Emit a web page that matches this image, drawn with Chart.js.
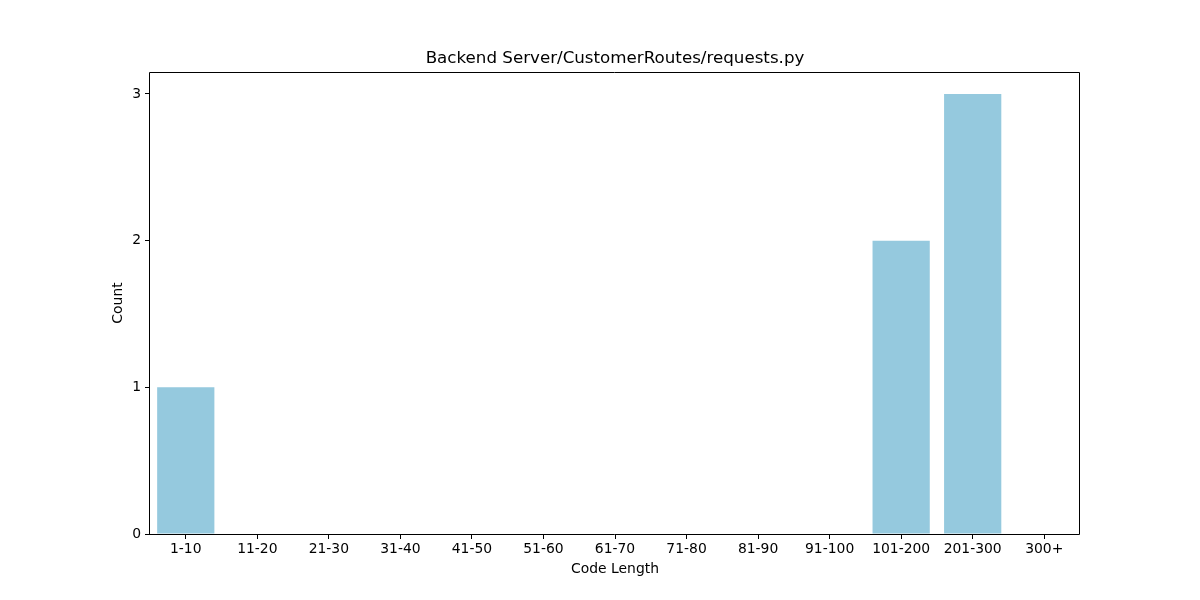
<!DOCTYPE html>
<html>
<head>
<meta charset="utf-8">
<script src="https://cdn.jsdelivr.net/npm/chart.js@4/dist/chart.umd.min.js"></script>
<style>
html,body{margin:0;padding:0;background:#fff;}
#wrap{width:1200px;height:600px;position:relative;}
</style>
</head>
<body>
<div id="wrap"><canvas id="c" width="1200" height="600"></canvas></div>
<script>
const categories = ['1-10','11-20','21-30','31-40','41-50','51-60','61-70','71-80','81-90','91-100','101-200','201-300','300+'];
const counts = [1,0,0,0,0,0,0,0,0,0,2,3,0];
const yTicks = [0,1,2,3];
const titleText = 'Backend Server/CustomerRoutes/requests.py';
const xLabel = 'Code Length';
const yLabel = 'Count';

const FONT = "'DejaVu Sans', sans-serif";

const framePlugin = {
  id: 'frame',
  afterDraw(chart) {
    const {ctx, chartArea: a} = chart;
    ctx.save();
    ctx.strokeStyle = '#000';
    ctx.lineWidth = 1;
    const l = Math.round(a.left) - 0.5, t = Math.round(a.top) + 0.5;
    const r = Math.round(a.right) - 0.5, b = Math.round(a.bottom) + 0.5;
    ctx.beginPath();
    ctx.moveTo(l, t); ctx.lineTo(r, t); ctx.lineTo(r, b); ctx.lineTo(l, b); ctx.closePath();
    ctx.stroke();
    ctx.fillStyle = '#000';
    ctx.textAlign = 'center';
    ctx.textBaseline = 'middle';
    ctx.font = '16.7px ' + FONT;
    ctx.fillText(titleText, (a.left + a.right) / 2, a.top - 13);
    ctx.font = '13.9px ' + FONT;
    ctx.fillText(xLabel, (a.left + a.right) / 2, 569);
    ctx.translate(118, (a.top + a.bottom) / 2);
    ctx.rotate(-Math.PI / 2);
    ctx.fillText(yLabel, 0, 0);
    ctx.restore();
  }
};

new Chart(document.getElementById('c'), {
  type: 'bar',
  data: {
    labels: categories,
    datasets: [{
      data: counts,
      backgroundColor: '#95c9de',
      borderWidth: 0,
      barPercentage: 0.8,
      categoryPercentage: 1.0
    }]
  },
  options: {
    responsive: false,
    animation: false,
    devicePixelRatio: 1,
    layout: { padding: { left: 0, right: 120, top: 72, bottom: 0 } },
    plugins: { legend: { display: false }, tooltip: { enabled: false }, title: { display: false } },
    scales: {
      x: {
        type: 'category',
        offset: true,
        grid: { display: true, drawOnChartArea: false, drawTicks: true, tickLength: 5, color: '#000', offset: false },
        border: { display: false },
        ticks: { color: '#000', font: { family: FONT, size: 13.9 }, padding: 2, maxRotation: 0, autoSkip: false },
        afterFit(s) { s.height = 600 - 534; }
      },
      y: {
        min: 0,
        max: 3.15,
        grid: { display: true, drawOnChartArea: false, drawTicks: true, tickLength: 5, color: '#000' },
        border: { display: false },
        ticks: { stepSize: 1, color: '#000', font: { family: FONT, size: 13.9 }, padding: 4 },
        afterBuildTicks(s) { s.ticks = yTicks.map(v => ({ value: v })); },
        afterFit(s) { s.width = 150; }
      }
    }
  },
  plugins: [framePlugin]
});
</script>
</body>
</html>
